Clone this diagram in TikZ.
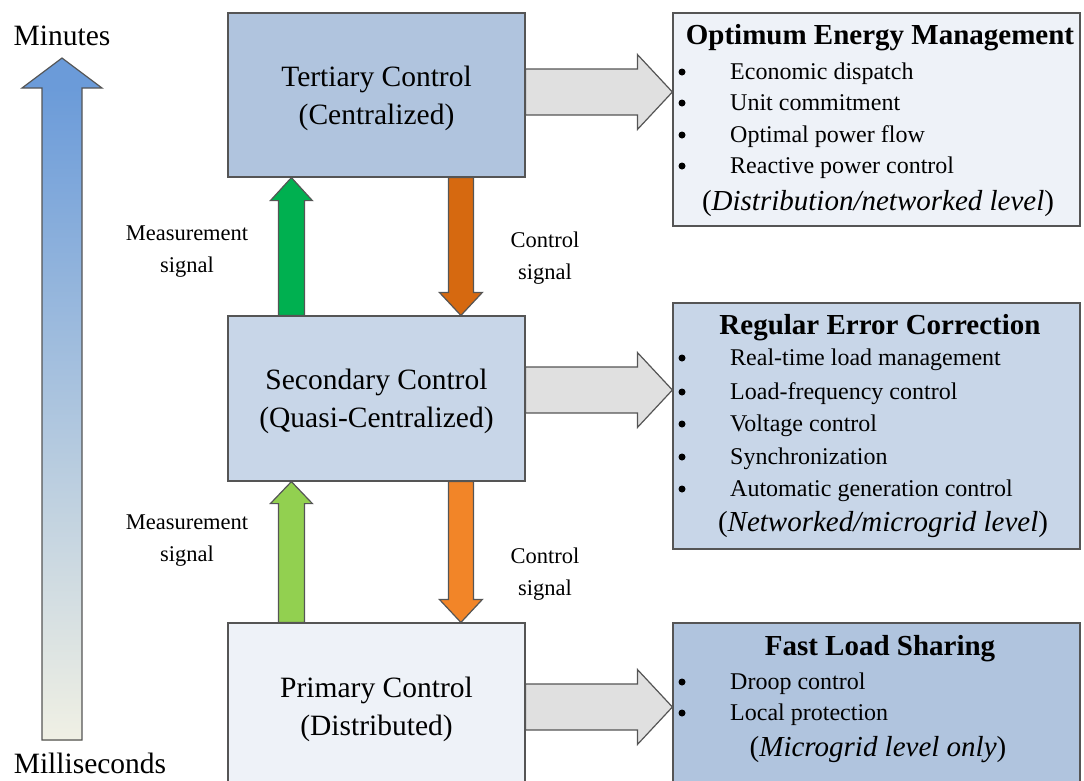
\documentclass[tikz,border=0pt]{standalone}
\usepackage{fontspec}
\setmainfont{Liberation Serif}
\usetikzlibrary{calc}
\definecolor{terfill}{RGB}{176,196,222}
\definecolor{secfill}{RGB}{200,214,232}
\definecolor{prifill}{RGB}{238,242,248}
\definecolor{edge}{RGB}{85,85,85}
\definecolor{arrgray}{RGB}{224,224,224}
\definecolor{dgreen}{RGB}{0,176,80}
\definecolor{lgreen}{RGB}{146,208,80}
\definecolor{dorange}{RGB}{214,105,16}
\definecolor{lorange}{RGB}{242,133,40}
\definecolor{tblue}{RGB}{107,155,217}
\definecolor{tmid}{RGB}{165,190,222}
\definecolor{tpale}{RGB}{240,240,228}
\newcommand{\blockarr}[6]{%
  \coordinate (ba-hb) at ($(#3)!#6!(#2)$);
  \draw[#1] ($(#2)!#4!90:(#3)$) -- ($(ba-hb)!#4!90:(#3)$) -- ($(ba-hb)!#5!90:(#3)$) -- (#3)
    -- ($(ba-hb)!#5!-90:(#3)$) -- ($(ba-hb)!#4!-90:(#3)$) -- ($(#2)!#4!-90:(#3)$) -- cycle;}
\begin{document}
\begin{tikzpicture}[x=1pt,y=-1pt,
  box/.style={draw=edge, line width=1.2pt, inner sep=0pt},
  lbl/.style={font=\fontsize{29.5}{38}\selectfont, align=center, text=black, inner sep=0pt},
  sig/.style={font=\fontsize{22.5}{32}\selectfont, align=center, inner sep=0pt},
  item/.style={anchor=west, font=\fontsize{24}{28}\selectfont, inner sep=0pt, text height=16pt, text depth=5pt},
  ttl/.style={font=\bfseries\fontsize{29}{34}\selectfont, inner sep=0pt, text height=20pt, text depth=6pt},
  lvl/.style={font=\fontsize{29}{34}\selectfont, inner sep=0pt, text height=20pt, text depth=6pt},
  dot/.style={circle, fill=black, inner sep=0pt, minimum size=7pt},
  flow/.style={draw=edge, line width=1.2pt, fill=arrgray},
  sigarr/.style={draw=edge, line width=1.2pt},
  time/.style={font=\fontsize{29.5}{34}\selectfont, inner sep=0pt}]

\useasboundingbox (0,0) rectangle (1084,780);

% time axis
\node[time] (mins) at (62,36) {Minutes};
\node[time] (msec) at (90,763) {Milliseconds};
\coordinate (tb) at (62,740);
\coordinate (tt) at (62,58);
\shade[top color=tblue, middle color=tmid, bottom color=tpale] (42,88) rectangle (82,740);
\fill[tblue] (22,88) -- (tt) -- (102,88) -- cycle;
\blockarr{draw=edge, line width=1.2pt}{tb}{tt}{20pt}{40pt}{30pt}

% control boxes
\node[box, fill=terfill, minimum width=297pt, minimum height=164pt] (ter) at (376.5,95) {};
\node[box, fill=secfill, minimum width=297pt, minimum height=165pt] (sec) at (376.5,398.5) {};
\node[box, fill=prifill, minimum width=297pt, minimum height=167pt] (pri) at (376.5,706.5) {};
\node[lbl] (terT) at (376.5,98) {Tertiary Control\\(Centralized)};
\node[lbl] (secT) at (376.5,401.5) {Secondary Control\\(Quasi-Centralized)};
\node[lbl] (priT) at (376.5,709.5) {Primary Control\\(Distributed)};

% right boxes
\node[box, fill=prifill, minimum width=407pt, minimum height=213pt] (opt) at (876.5,119.5) {};
\node[box, fill=secfill, minimum width=407pt, minimum height=246pt] (reg) at (876.5,426) {};
\node[box, fill=terfill, minimum width=407pt, minimum height=167pt] (fast) at (876.5,706.5) {};

% box 1 text
\node[ttl] (t1) at (880,37) {Optimum Energy Management};
\node[dot] (d11) at (682,72) {};  \node[item] (i11) at (730,74) {Economic dispatch};
\node[dot] (d12) at (682,103) {}; \node[item] (i12) at (730,105) {Unit commitment};
\node[dot] (d13) at (682,135) {}; \node[item] (i13) at (730,137) {Optimal power flow};
\node[dot] (d14) at (682,166) {}; \node[item] (i14) at (730,168) {Reactive power control};
\node[lvl] (l1) at (878,203) {(\textit{Distribution/networked level})};

% box 2 text
\node[ttl] (t2) at (880,327) {Regular Error Correction};
\node[dot] (d21) at (682,358) {}; \node[item] (i21) at (730,360) {Real-time load management};
\node[dot] (d22) at (682,392) {}; \node[item] (i22) at (730,394) {Load-frequency control};
\node[dot] (d23) at (682,424) {}; \node[item] (i23) at (730,426) {Voltage control};
\node[dot] (d24) at (682,457) {}; \node[item] (i24) at (730,459) {Synchronization};
\node[dot] (d25) at (682,489) {}; \node[item] (i25) at (730,491) {Automatic generation control};
\node[lvl] (l2) at (883,524) {(\textit{Networked/microgrid level})};

% box 3 text
\node[ttl] (t3) at (880,648) {Fast Load Sharing};
\node[dot] (d31) at (682,682) {}; \node[item] (i31) at (730,684) {Droop control};
\node[dot] (d32) at (682,713) {}; \node[item] (i32) at (730,715) {Local protection};
\node[lvl] (l3) at (878,749) {(\textit{Microgrid level only})};

% flow arrows to right boxes
\path (ter.east) ++(0,-3) coordinate (f1a);
\coordinate (f1b) at (f1a -| opt.west);
\path (sec.east) ++(0,-8.5) coordinate (f2a);
\coordinate (f2b) at (f2a -| reg.west);
\path (pri.east) ++(0,0.5) coordinate (f3a);
\coordinate (f3b) at (f3a -| fast.west);
\blockarr{flow}{f1a}{f1b}{23pt}{37.5pt}{35pt}
\blockarr{flow}{f2a}{f2b}{23pt}{37.5pt}{35pt}
\blockarr{flow}{f3a}{f3b}{23pt}{37.5pt}{35pt}

% signal arrows
\path (sec.north west) ++(64,0) coordinate (g1a);
\coordinate (g1b) at (g1a |- ter.south);
\path (ter.south west) ++(233.5,0) coordinate (o1a);
\coordinate (o1b) at (o1a |- sec.north);
\path (pri.north west) ++(64,0) coordinate (g2a);
\coordinate (g2b) at (g2a |- sec.south);
\path (sec.south west) ++(233.5,0) coordinate (o2a);
\coordinate (o2b) at (o2a |- pri.north);
\blockarr{sigarr, fill=dgreen}{g1a}{g1b}{13pt}{21pt}{23pt}
\blockarr{sigarr, fill=dorange}{o1a}{o1b}{12.5pt}{21.5pt}{23pt}
\blockarr{sigarr, fill=lgreen}{g2a}{g2b}{13pt}{21pt}{22pt}
\blockarr{sigarr, fill=lorange}{o2a}{o2b}{12.5pt}{21.5pt}{23pt}

% signal labels
\node[sig] (m1) at (187,252) {Measurement\\signal};
\node[sig] (m2) at (187,540.5) {Measurement\\signal};
\node[sig] (c1) at (545,258) {Control\\signal};
\node[sig] (c2) at (545,574.5) {Control\\signal};
\end{tikzpicture}
\end{document}
